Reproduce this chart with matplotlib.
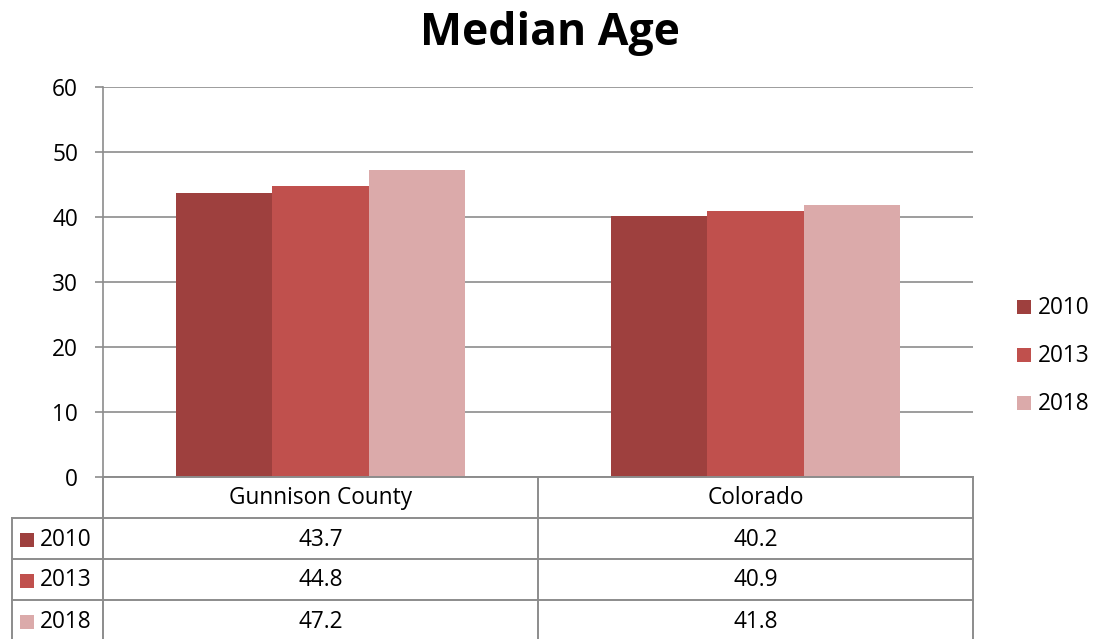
import matplotlib
matplotlib.use("Agg")
import matplotlib.pyplot as plt
from matplotlib.patches import Rectangle
from matplotlib.lines import Line2D

# Data
categories = ["Gunnison County", "Colorado"]
years = ["2010", "2013", "2018"]
values_2010 = [43.7, 40.2]
values_2013 = [44.8, 40.9]
values_2018 = [47.2, 41.8]
series = [values_2010, values_2013, values_2018]
colors = ["#9E403E", "#C0504D", "#DBAAAA"]
y_ticks = [0, 10, 20, 30, 40, 50, 60]

W, H = 1106, 639
FONT = "Open Sans"
GRID = "#8C8C8C"
TXT = 16.3

fig = plt.figure(figsize=(W / 100, H / 100), dpi=100)


def fx(x):
    return x / W


def fy(y):
    return 1 - y / H


# Plot area in pixel coordinates
left, right, top, bottom = 103, 973, 87, 477
ax = fig.add_axes([fx(left), fy(bottom), fx(right - left), (bottom - top) / H])
ax.set_xlim(-0.5, len(categories) - 0.5)
ax.set_ylim(0, 60)

bar_w = 0.222
for i, (vals, col) in enumerate(zip(series, colors)):
    xs = [c + (i - 1) * bar_w for c in range(len(categories))]
    ax.bar(xs, vals, width=bar_w, color=col, edgecolor="none", zorder=3)

ax.set_yticks(y_ticks)
ax.set_yticklabels([str(t) for t in y_ticks], fontfamily=FONT, fontsize=TXT)
ax.tick_params(axis="y", length=6, width=1.2, color=GRID, pad=12)
ax.set_xticks([])
ax.yaxis.grid(True, color=GRID, linewidth=1.2, zorder=0)
for s in ["top", "right", "bottom"]:
    ax.spines[s].set_visible(False)
ax.spines["left"].set_color(GRID)
ax.spines["left"].set_linewidth(1.2)

# Title
fig.text(fx(550), fy(33), "Median Age", ha="center", va="center",
         fontfamily=FONT, fontweight="bold", fontsize=32)

# Data table below the plot area
def hline(y, x0, x1):
    fig.add_artist(Line2D([fx(x0), fx(x1)], [fy(y), fy(y)], color=GRID, lw=1.4))


def vline(x, y0, y1):
    fig.add_artist(Line2D([fx(x), fx(x)], [fy(y0), fy(y1)], color=GRID, lw=1.4))


col_edges = [103, 538, 973]
row_edges = [477, 518, 559, 600, 641]
label_left = 12

hline(row_edges[0], col_edges[0], col_edges[-1])
for y in row_edges[1:4]:
    hline(y, label_left, col_edges[-1])
for x in col_edges:
    vline(x, row_edges[0], H)
vline(label_left, row_edges[1], H)

for j, cat in enumerate(categories):
    cx = (col_edges[j] + col_edges[j + 1]) / 2
    cy = (row_edges[0] + row_edges[1]) / 2 + 1
    fig.text(fx(cx), fy(cy), cat, ha="center", va="center",
             fontfamily=FONT, fontsize=TXT)

for i, (yr, vals, col) in enumerate(zip(years, series, colors)):
    cy = (row_edges[i + 1] + row_edges[i + 2]) / 2 + 1
    fig.add_artist(Rectangle((fx(20), fy(cy + 7)), 14 / W, 14 / H,
                             facecolor=col, edgecolor="none"))
    fig.text(fx(40), fy(cy), yr, ha="left", va="center",
             fontfamily=FONT, fontsize=TXT)
    for j, v in enumerate(vals):
        cx = (col_edges[j] + col_edges[j + 1]) / 2
        fig.text(fx(cx), fy(cy), f"{v:.1f}", ha="center", va="center",
                 fontfamily=FONT, fontsize=TXT)

# Legend on the right
for yr, col, ly in zip(years, colors, [307, 355, 403]):
    fig.add_artist(Rectangle((fx(1017), fy(ly + 7)), 14 / W, 14 / H,
                             facecolor=col, edgecolor="none"))
    fig.text(fx(1038), fy(ly + 1), yr, ha="left", va="center",
             fontfamily=FONT, fontsize=TXT)

fig.savefig("out.png", dpi=100)
